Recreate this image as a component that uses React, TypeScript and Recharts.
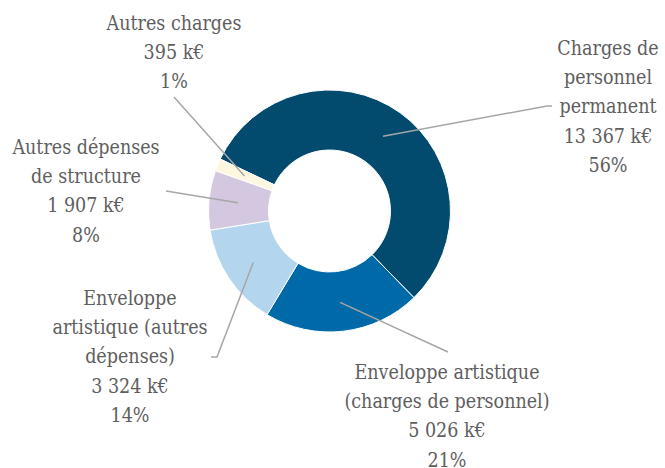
import { PieChart, Pie, Cell } from "recharts"

// Budget breakdown (k€)
const categories = [
  "Charges de personnel permanent",
  "Enveloppe artistique (charges de personnel)",
  "Enveloppe artistique (autres dépenses)",
  "Autres dépenses de structure",
  "Autres charges",
]
const values = [13367, 5026, 3324, 1907, 395]
const percents = [56, 21, 14, 8, 1]
// how each category name wraps in its label
const nameLines = [
  ["Charges de", "personnel", "permanent"],
  ["Enveloppe artistique", "(charges de personnel)"],
  ["Enveloppe", "artistique (autres", "dépenses)"],
  ["Autres dépenses", "de structure"],
  ["Autres charges"],
]

const COLORS = ["#024b6e", "#006aa9", "#b4d5ee", "#d4c8e0", "#fdf7e0"]

// label placement: text centre x, first baseline y, leader end (+ optional short tail)
const labelLayout = [
  { x: 608, y: 55, end: [547, 106], tail: [552, 106] },
  { x: 447, y: 379, end: [448, 352] },
  { x: 130, y: 305, end: [217, 357], tail: [211, 357] },
  { x: 86, y: 154, end: [166, 191] },
  { x: 174, y: 30, end: [174, 97] },
]

const LINE_H = 29.2
const RADIAN = Math.PI / 180
const FONT = '"DejaVu Serif Condensed", "DejaVu Serif", serif'

const fmt = (v: number) => `${v.toString().replace(/\B(?=(\d{3})+(?!\d))/g, " ")} k€`

const data = categories.map((name, i) => ({ name, value: values[i] }))

function renderLabel(props: any) {
  const { cx, cy, midAngle, innerRadius, outerRadius, index } = props
  const r = (innerRadius + outerRadius) / 2 + 1
  const sx = cx + r * Math.cos(-midAngle * RADIAN)
  const sy = cy + r * Math.sin(-midAngle * RADIAN)
  const lay = labelLayout[index]
  const pts = [[sx, sy], lay.end]
  if (lay.tail) pts.push(lay.tail)
  const lines = [...nameLines[index], fmt(values[index]), `${percents[index]}%`]
  return (
    <g key={`lbl-${index}`}>
      <polyline
        points={pts.map((p) => p.join(",")).join(" ")}
        fill="none"
        stroke="#a6a6a6"
        strokeWidth={1.5}
      />
      <text
        textAnchor="middle"
        fill="#5e5e5e"
        style={{ fontFamily: FONT, fontSize: 19.5, fontStretch: "condensed" }}
      >
        {lines.map((t, j) => (
          <tspan key={j} x={lay.x} y={lay.y + j * LINE_H}>
            {t}
          </tspan>
        ))}
      </text>
    </g>
  )
}

export default function App() {
  return (
    <div style={{ position: "absolute", left: 0, top: 0, background: "#fff", fontFamily: FONT }}>
      <PieChart width={665} height={468} margin={{ top: 0, right: 0, bottom: 0, left: 0 }}>
        <Pie
          data={data}
          dataKey="value"
          nameKey="name"
          cx={329.5}
          cy={211}
          innerRadius={61}
          outerRadius={121}
          startAngle={154.6}
          endAngle={154.6 - 360}
          stroke="#ffffff"
          strokeWidth={1}
          label={renderLabel}
          labelLine={false}
          isAnimationActive={false}
        >
          {data.map((_, i) => (
            <Cell key={i} fill={COLORS[i]} />
          ))}
        </Pie>
      </PieChart>
    </div>
  )
}
